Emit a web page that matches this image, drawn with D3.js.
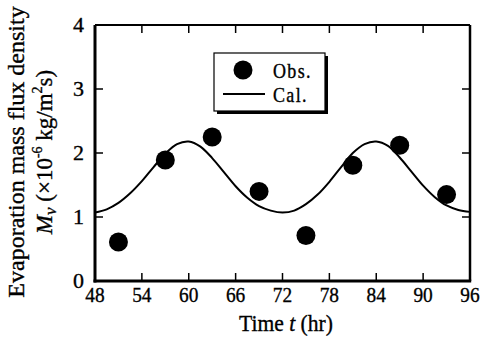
<!DOCTYPE html>
<html>
<head>
<meta charset="utf-8">
<script src="https://cdn.jsdelivr.net/npm/d3@7"></script>
<style>
  body { margin: 0; background: #fff; }
  svg { display: block; }
  text { font-family: 'Liberation Serif', 'Times New Roman', serif; fill: #000; stroke: #000; stroke-width: 0.35px; }
</style>
</head>
<body>
<div id="chart"></div>
<script>
// observed points (hr, 1e-6 kg/m2s)
const obsTime = [51, 57, 63, 69, 75, 81, 87, 93]
const obsValue = [0.61, 1.89, 2.25, 1.4, 0.71, 1.81, 2.12, 1.35]

// calculated curve
const calTime = [48, 49.5, 51, 52.5, 54, 55.5, 57, 58.5, 60, 61.5, 63, 64.5, 66, 67.5, 69, 70.5, 72,
  73.5, 75, 76.5, 78, 79.5, 81, 82.5, 84, 85.5, 87, 88.5, 90, 91.5, 93, 94.5, 96]
const calValue = [1.07, 1.12, 1.22, 1.37, 1.56, 1.78, 1.99, 2.14, 2.18, 2.1, 1.92, 1.7, 1.48, 1.3, 1.17, 1.1, 1.07,
  1.1, 1.2, 1.35, 1.55, 1.78, 2.0, 2.14, 2.18, 2.11, 1.93, 1.71, 1.49, 1.31, 1.18, 1.11, 1.08]

const xTicks = [48, 54, 60, 66, 72, 78, 84, 90, 96]
const yTicks = [0, 1, 2, 3, 4]

const margin = { top: 25, left: 95, right: 11, bottom: 58 }
const width = 481 - margin.left - margin.right
const height = 339 - margin.top - margin.bottom

const svg = d3
  .select('#chart')
  .append('svg')
  .attr('width', 481)
  .attr('height', 339)

const g = svg
  .append('g')
  .attr('transform', 'translate(' + margin.left + ',' + margin.top + ')')

const xPositionScale = d3.scaleLinear().domain([48, 96]).range([0, width])
const yPositionScale = d3.scaleLinear().domain([0, 4]).range([height, 0])

// ticks, all pointing inward
const tickLen = 8
g.selectAll('.xtick-b')
  .data(xTicks)
  .enter()
  .append('line')
  .attr('x1', d => xPositionScale(d))
  .attr('x2', d => xPositionScale(d))
  .attr('y1', height)
  .attr('y2', height - tickLen)
  .attr('stroke', '#000')
  .attr('stroke-width', 1.5)
g.selectAll('.xtick-t')
  .data(xTicks)
  .enter()
  .append('line')
  .attr('x1', d => xPositionScale(d))
  .attr('x2', d => xPositionScale(d))
  .attr('y1', 0)
  .attr('y2', tickLen)
  .attr('stroke', '#000')
  .attr('stroke-width', 1.5)
g.selectAll('.ytick-l')
  .data(yTicks)
  .enter()
  .append('line')
  .attr('x1', 0)
  .attr('x2', tickLen)
  .attr('y1', d => yPositionScale(d))
  .attr('y2', d => yPositionScale(d))
  .attr('stroke', '#000')
  .attr('stroke-width', 1.5)
g.selectAll('.ytick-r')
  .data(yTicks)
  .enter()
  .append('line')
  .attr('x1', width)
  .attr('x2', width - tickLen)
  .attr('y1', d => yPositionScale(d))
  .attr('y2', d => yPositionScale(d))
  .attr('stroke', '#000')
  .attr('stroke-width', 1.5)

// frame
g.append('line').attr('x1', 0).attr('x2', width).attr('y1', 0).attr('y2', 0)
  .attr('stroke', '#000').attr('stroke-width', 2)
g.append('line').attr('x1', width).attr('x2', width).attr('y1', 0).attr('y2', height)
  .attr('stroke', '#000').attr('stroke-width', 2.5)
g.append('line').attr('x1', 0).attr('x2', 0).attr('y1', 0).attr('y2', height + 1.5)
  .attr('stroke', '#000').attr('stroke-width', 3)
g.append('line').attr('x1', -1.5).attr('x2', width + 1.2).attr('y1', height).attr('y2', height)
  .attr('stroke', '#000').attr('stroke-width', 3)

// tick labels
g.selectAll('.xlabel')
  .data(xTicks)
  .enter()
  .append('text')
  .attr('x', d => xPositionScale(d))
  .attr('y', height + 21)
  .attr('text-anchor', 'middle')
  .attr('font-size', 22)
  .attr('transform', d => 'translate(' + xPositionScale(d) * 0.12 + ',0) scale(0.88,1)')
  .text(d => d)

g.selectAll('.ylabel')
  .data(yTicks)
  .enter()
  .append('text')
  .attr('x', -11)
  .attr('y', d => yPositionScale(d))
  .attr('dy', '0.33em')
  .attr('text-anchor', 'end')
  .attr('font-size', 22)
  .text(d => d)

// calculated line
const line = d3
  .line()
  .x((d, i) => xPositionScale(calTime[i]))
  .y(d => yPositionScale(d))
  .curve(d3.curveCatmullRom)

g.append('path')
  .datum(calValue)
  .attr('d', line)
  .attr('fill', 'none')
  .attr('stroke', '#000')
  .attr('stroke-width', 2)

// observed dots
g.selectAll('.obs')
  .data(obsValue)
  .enter()
  .append('circle')
  .attr('cx', (d, i) => xPositionScale(obsTime[i]))
  .attr('cy', d => yPositionScale(d))
  .attr('r', 9.5)
  .attr('fill', '#000')

// legend box with shadow
const legend = svg.append('g').attr('transform', 'translate(214,53)')
legend.append('rect').attr('x', 3).attr('y', 3).attr('width', 111).attr('height', 58).attr('fill', '#000')
legend.append('rect').attr('x', 0).attr('y', 0).attr('width', 111).attr('height', 58)
  .attr('fill', '#fff').attr('stroke', '#000').attr('stroke-width', 1.2)
legend.append('circle').attr('cx', 29).attr('cy', 17).attr('r', 9.5).attr('fill', '#000')
legend.append('text').attr('x', 59).attr('y', 25).attr('font-size', 20).attr('letter-spacing', 1.5)
  .attr('transform', 'translate(5.9,0) scale(0.9,1)').text('Obs.')
legend.append('line').attr('x1', 9).attr('x2', 51).attr('y1', 41).attr('y2', 41)
  .attr('stroke', '#000').attr('stroke-width', 2)
legend.append('text').attr('x', 59).attr('y', 49).attr('font-size', 20).attr('letter-spacing', 1.5)
  .attr('transform', 'translate(5.9,0) scale(0.9,1)').text('Cal.')

// x axis title
const xTitle = svg.append('text')
  .attr('x', 286)
  .attr('y', 331)
  .attr('text-anchor', 'middle')
  .attr('font-size', 24)
  .attr('transform', 'translate(28.6,0) scale(0.9,1)')
xTitle.append('tspan').text('Time ')
xTitle.append('tspan').attr('font-style', 'italic').text('t')
xTitle.append('tspan').text(' (hr)')

// y axis title, two lines
svg.append('text')
  .attr('transform', 'translate(24,152) rotate(-90)')
  .attr('text-anchor', 'middle')
  .attr('font-size', 24)
  .text('Evaporation mass flux density')

const yTitle = svg.append('text')
  .attr('transform', 'translate(52,152) rotate(-90)')
  .attr('text-anchor', 'middle')
  .attr('font-size', 23)
yTitle.append('tspan').attr('font-style', 'italic').text('M')
yTitle.append('tspan').attr('font-style', 'italic').attr('font-size', 17).attr('dy', 4).text('ν')
yTitle.append('tspan').attr('dy', -4).text(' (×10')
yTitle.append('tspan').attr('font-size', 14).attr('dy', -10).text('-6')
yTitle.append('tspan').attr('dy', 10).text(' kg/m')
yTitle.append('tspan').attr('font-size', 14).attr('dy', -10).text('2')
yTitle.append('tspan').attr('dy', 10).text('s)')
</script>
</body>
</html>
